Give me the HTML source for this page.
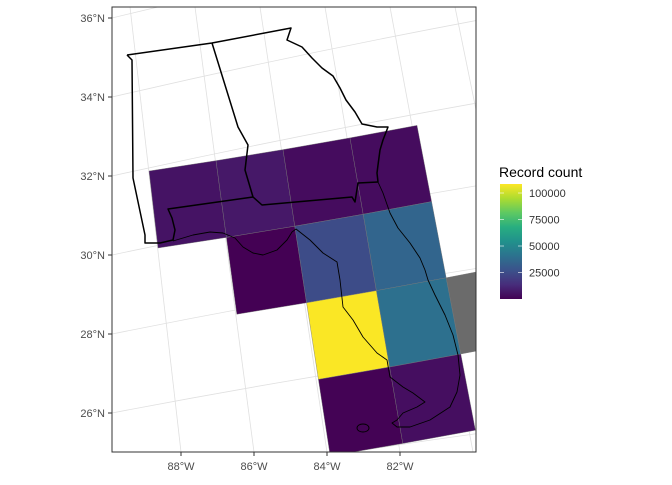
<!DOCTYPE html>
<html><head><meta charset="utf-8"><style>
body{margin:0;background:#fff;font-family:"Liberation Sans",sans-serif}
svg text{font-family:"Liberation Sans",sans-serif}
</style></head><body>
<svg id="c" width="672" height="480" xmlns="http://www.w3.org/2000/svg">
<defs><clipPath id="pc"><rect x="112" y="7" width="364" height="445"/></clipPath>
<linearGradient id="vg" x1="0" y1="1" x2="0" y2="0">
<stop offset="0" stop-color="#440154"/><stop offset="0.125" stop-color="#472d7b"/><stop offset="0.25" stop-color="#3b528b"/><stop offset="0.375" stop-color="#2c728e"/><stop offset="0.5" stop-color="#21918c"/><stop offset="0.625" stop-color="#28ae80"/><stop offset="0.75" stop-color="#5ec962"/><stop offset="0.875" stop-color="#addc30"/><stop offset="1" stop-color="#fde725"/></linearGradient></defs>
<rect x="112" y="7" width="364" height="445" fill="#fff"/>
<g id="grat" clip-path="url(#pc)"></g>
<g id="cells" clip-path="url(#pc)"></g>
<g id="outline" clip-path="url(#pc)" fill="none" stroke="#000"></g>
<rect x="112" y="7" width="364" height="445" fill="none" stroke="#333" stroke-width="1"/>
<g id="axes" font-size="11" fill="#4d4d4d"></g>
<g>
<text x="499" y="177" font-size="14" fill="#000">Record count</text>
<rect x="500" y="184" width="22" height="115" fill="url(#vg)"/>
<g id="leg" font-size="11" fill="#333"></g>
</g>
</svg>
<script>
const cellCols=[0,1,2,3,1,2,3,2,3,4,2,3];
const cellRows=[0,0,0,0,1,1,1,2,2,2,3,3];
const cellValues=[5500,7000,3500,3500,0,25000,35000,108000,40000,null,500,4000];
const legendTicks=[25000,50000,75000,100000];
const latTicks=[36,34,32,30,28,26];
const lonTicks=[88,86,84,82];
const vmin=0,vmax=108500;
const NS="http://www.w3.org/2000/svg";
function mk(t,a,p){const e=document.createElementNS(NS,t);for(const k in a)e.setAttribute(k,a[k]);p.appendChild(e);return e;}
const vir=["#440154","#472d7b","#3b528b","#2c728e","#21918c","#28ae80","#5ec962","#addc30","#fde725"];
function h2r(h){return [1,3,5].map(i=>parseInt(h.substr(i,2),16));}
function color(v){let t=Math.max(0,Math.min(1,(v-vmin)/(vmax-vmin)))*8;const i=Math.min(7,Math.floor(t)),f=t-i;const a=h2r(vir[i]),b=h2r(vir[i+1]);return "rgb("+a.map((x,k)=>Math.round(x+(b[k]-x)*f)).join(",")+")";}
function corner(i,j){return [149+67*i+9*j+1.4*i*j, 171-10*i-0.35*i*i+77*j-0.2*i*j];}
const cg=document.getElementById('cells');
cellValues.forEach((v,k)=>{const i=cellCols[k],j=cellRows[k];
const p=[corner(i,j),corner(i+1,j),corner(i+1,j+1),corner(i,j+1)];
const e=mk('polygon',{points:p.map(q=>q.join(',')).join(' '),fill:v==null?'#6b6b6b':color(v),stroke:'#777','stroke-width':0.4},cg);

});
const gg=document.getElementById('grat');
const latY=function(lat){return 18+(36-lat)*39.5;};
const latSlope=function(lat){return -0.22+(36-lat)*0.005;};
latTicks.concat([24]).forEach(l=>{const y=latY(l);const e=mk('path',{d:`M112,${y} Q294,${y+latSlope(l)*182-4} 476,${y+latSlope(l)*364}`,stroke:'#e0e0e0','stroke-width':0.8,fill:'none'},gg);

});
const lonBot=function(w){return 181+(88-w)*36.5;};
const lonTop=function(w){return 130+(88-w)*32.5;};
[90,88,86,84,82,80,78].forEach(w=>{const e=mk('line',{x1:lonTop(w),y1:7,x2:lonBot(w),y2:452,stroke:'#e0e0e0','stroke-width':0.8},gg);

});
const og=document.getElementById('outline');
const paths=[
[[127,55],[212,43],[291,28],[287,40],[302,47],[312,58],[322,68],[333,76],[340,88],[346,100],[355,112],[362,124],[377,127],[388,127],[383,140],[380,150],[378,165],[377,173],[378,182]],
[[212,43],[238,127],[248,145],[245,170],[253,197],[262,205],[352,197],[355,202],[358,183],[378,182]],
[[253,197],[168,209],[172,218],[175,230],[173,240],[160,243],[145,243],[145,235],[133,178],[132,60],[127,55]],
[[173,241],[193,235],[210,232],[223,233],[235,238],[243,247],[253,253],[263,255],[277,250],[287,240],[292,232],[296,229],[310,240],[323,253],[337,262],[340,280],[343,307],[353,320],[363,337],[377,353],[387,360],[390,377],[403,387],[413,393],[425,402],[417,407],[403,413],[397,420],[392,423],[397,427],[410,427],[430,420],[450,407],[457,392],[460,375],[458,355],[453,335],[445,315],[435,295],[428,280],[425,270],[420,258],[410,243],[398,228],[390,213],[383,193],[378,182]]];
paths.forEach((p,k)=>{const e=mk('polyline',{points:p.map(q=>q.join(',')).join(' '),'stroke-width':k==3?0.9:1.5,'stroke-linejoin':'round'},og);

});
const lk=mk('ellipse',{cx:363,cy:428,rx:6,ry:4,'stroke-width':0.9},og);


const ax=document.getElementById('axes');
latTicks.forEach(l=>{const y=latY(l);mk('line',{x1:108,y1:y,x2:112,y2:y,stroke:'#333'},ax);
const t=mk('text',{x:105,y:y+4,'text-anchor':'end'},ax);t.textContent=l+'°N';

});
lonTicks.forEach(w=>{const x=lonBot(w);mk('line',{x1:x,y1:452,x2:x,y2:456,stroke:'#333'},ax);
const t=mk('text',{x:x,y:470,'text-anchor':'middle'},ax);t.textContent=w+'°W';

});
const lg=document.getElementById('leg');
legendTicks.forEach(v=>{const y=299-(v-vmin)/(vmax-vmin)*115;
mk('line',{x1:500,y1:y,x2:504,y2:y,stroke:'#fff','stroke-width':0.6},lg);
mk('line',{x1:518,y1:y,x2:522,y2:y,stroke:'#fff','stroke-width':0.6},lg);
const t=mk('text',{x:529,y:y+4},lg);t.textContent=v;

});
</script>
</body></html>
